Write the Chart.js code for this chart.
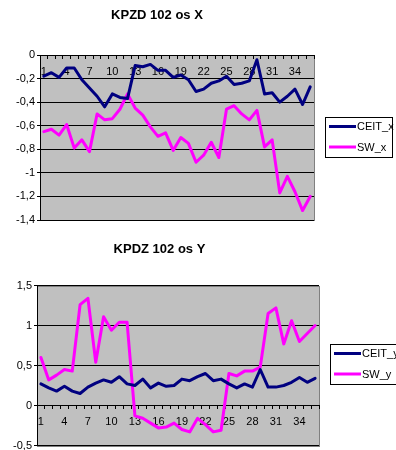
<!DOCTYPE html>
<html><head><meta charset="utf-8">
<script src="https://cdn.jsdelivr.net/npm/chart.js@4.4.0/dist/chart.umd.min.js"></script>
<style>
html,body{margin:0;padding:0;background:#fff;overflow:hidden;width:396px;height:450px;}
.wrap{position:absolute;left:0;width:396px;}
#w1{top:0;height:232px;}
#w2{top:228px;height:228px;}
</style></head><body>
<div class="wrap" id="w1"><canvas id="c1" width="396" height="232"></canvas></div>
<div class="wrap" id="w2"><canvas id="c2" width="396" height="228"></canvas></div>
<script>
const categories = ['1','2','3','4','5','6','7','8','9','10','11','12','13','14','15','16','17','18',
  '19','20','21','22','23','24','25','26','27','28','29','30','31','32','33','34','35','36'];
const xTickLabels = ['1','4','7','10','13','16','19','22','25','28','31','34'];

const ceitX = [-0.18,-0.15,-0.19,-0.11,-0.11,-0.21,-0.28,-0.35,-0.44,-0.33,-0.36,-0.37,
  -0.09,-0.10,-0.08,-0.13,-0.13,-0.19,-0.17,-0.21,-0.31,-0.29,-0.24,-0.22,
  -0.18,-0.25,-0.24,-0.22,-0.04,-0.33,-0.32,-0.40,-0.35,-0.29,-0.42,-0.27];
const swX = [-0.65,-0.63,-0.68,-0.59,-0.79,-0.72,-0.82,-0.50,-0.55,-0.54,-0.46,-0.33,
  -0.45,-0.51,-0.61,-0.69,-0.66,-0.81,-0.70,-0.75,-0.91,-0.85,-0.74,-0.87,
  -0.46,-0.43,-0.50,-0.55,-0.47,-0.78,-0.72,-1.17,-1.03,-1.16,-1.32,-1.20];
const ceitY = [0.27,0.22,0.18,0.24,0.18,0.15,0.23,0.28,0.32,0.29,0.36,0.27,
  0.25,0.33,0.22,0.28,0.24,0.25,0.33,0.31,0.36,0.40,0.31,0.33,
  0.27,0.22,0.27,0.23,0.45,0.23,0.23,0.25,0.29,0.35,0.29,0.34];
const swY = [0.60,0.32,0.38,0.45,0.43,1.26,1.34,0.54,1.11,0.94,1.04,1.04,
  -0.13,-0.16,-0.22,-0.28,-0.27,-0.22,-0.30,-0.33,-0.16,-0.24,-0.33,-0.31,
  0.40,0.37,0.43,0.43,0.48,1.15,1.22,0.77,1.06,0.80,0.90,1.00];

const yTicksTop = [0,-0.2,-0.4,-0.6,-0.8,-1,-1.2,-1.4];
const yTicksBottom = [1.5,1,0.5,0,-0.5];

const FONT = "Arial, 'Liberation Sans', sans-serif";
const NAVY = '#000080';
const PINK = '#FF00FF';

const plotPlugin = {
  id: 'plotFrame',
  beforeDraw(chart) {
    const {ctx, chartArea: a} = chart;
    ctx.save();
    ctx.fillStyle = '#C0C0C0';
    ctx.fillRect(a.left, a.top, a.right - a.left, a.bottom - a.top);
    ctx.strokeStyle = '#808080';
    ctx.lineWidth = 1;
    ctx.strokeRect(Math.round(a.left) + 0.5, Math.round(a.top) + 0.5,
      Math.round(a.right - a.left), Math.round(a.bottom - a.top));
    ctx.restore();
  }
};

const legendPlugin = {
  id: 'boxLegend',
  afterDraw(chart, args, opts) {
    const {ctx} = chart;
    const b = opts.box;
    ctx.save();
    ctx.fillStyle = '#fff';
    ctx.fillRect(b.x, b.y, b.w, b.h);
    ctx.strokeStyle = '#000';
    ctx.lineWidth = 1;
    ctx.strokeRect(b.x + 0.5, b.y + 0.5, b.w, b.h);
    ctx.font = '11px ' + FONT;
    ctx.textBaseline = 'middle';
    ctx.textAlign = 'left';
    chart.data.datasets.forEach((ds, i) => {
      const y = b.y + opts.rows[i];
      ctx.strokeStyle = ds.borderColor;
      ctx.lineWidth = 3;
      ctx.beginPath();
      ctx.moveTo(b.x + 4, y);
      ctx.lineTo(b.x + 31, y);
      ctx.stroke();
      ctx.fillStyle = '#000';
      ctx.fillText(ds.label, b.x + 32, y + 0.5);
    });
    ctx.restore();
  }
};

function fmt(v) {
  return String(Math.round(v * 10) / 10).replace('.', ',');
}

function makeChart(id, cfg) {
  return new Chart(document.getElementById(id), {
    type: 'line',
    data: {
      labels: categories,
      datasets: [
        {label: cfg.names[0], data: cfg.series[0], borderColor: NAVY, backgroundColor: NAVY,
         borderWidth: 3, pointRadius: 0, tension: 0, borderJoinStyle: 'round', borderCapStyle: 'round'},
        {label: cfg.names[1], data: cfg.series[1], borderColor: PINK, backgroundColor: PINK,
         borderWidth: 3, pointRadius: 0, tension: 0, borderJoinStyle: 'round', borderCapStyle: 'round'}
      ]
    },
    options: {
      responsive: false,
      animation: false,
      devicePixelRatio: 1,
      layout: {padding: {left: 0, right: cfg.padRight, top: 0, bottom: cfg.padBottom}},
      plugins: {
        legend: {display: false},
        tooltip: {enabled: false},
        title: {
          display: true, text: cfg.title, color: '#000',
          font: {family: FONT, size: 13, weight: 'bold'},
          padding: {top: cfg.titleTop, bottom: cfg.titleBottom}
        },
        boxLegend: {box: cfg.legendBox, rows: cfg.legendRows}
      },
      scales: {
        x: {
          type: 'category',
          position: {y: 0},
          offset: true,
          grid: {offset: true, drawOnChartArea: false, drawTicks: true, tickLength: 3, color: '#000', lineWidth: 1},
          border: {display: true, color: '#000', width: 1},
          ticks: {
            autoSkip: false, maxRotation: 0, minRotation: 0, padding: 7,
            color: '#000', font: {family: FONT, size: 11},
            callback: function(val, idx) {
              const l = categories[idx];
              return xTickLabels.includes(l) ? l : '';
            }
          }
        },
        y: {
          min: cfg.yMin, max: cfg.yMax,
          afterFit: (s) => { s.width = cfg.axisLeft; },
          afterBuildTicks: (s) => { s.ticks = cfg.yTicks.map(v => ({value: v})); },
          grid: {color: '#000', lineWidth: 1, drawTicks: true, tickLength: 3},
          border: {display: true, color: '#000', width: 1},
          ticks: {
            padding: 2, color: '#000', font: {family: FONT, size: 11},
            callback: (v) => fmt(v)
          }
        }
      }
    },
    plugins: [plotPlugin, legendPlugin]
  });
}

makeChart('c1', {
  names: ['CEIT_x', 'SW_x'], series: [ceitX, swX],
  title: 'KPZD 102 os X', titleTop: 8, titleBottom: 31.4,
  yMin: -1.4, yMax: 0, yTicks: yTicksTop,
  axisLeft: 40, padRight: 82, padBottom: 12,
  legendBox: {x: 325, y: 117, w: 67, h: 40}, legendRows: [9.5, 30]
});

makeChart('c2', {
  names: ['CEIT_y', 'SW_y'], series: [ceitY, swY],
  title: 'KPDZ 102 os Y', titleTop: 13.5, titleBottom: 28.4,
  yMin: -0.5, yMax: 1.5, yTicks: yTicksBottom,
  axisLeft: 37, padRight: 77, padBottom: 10.5,
  legendBox: {x: 330, y: 116, w: 67, h: 40}, legendRows: [9.5, 30]
});
</script>
</body></html>
